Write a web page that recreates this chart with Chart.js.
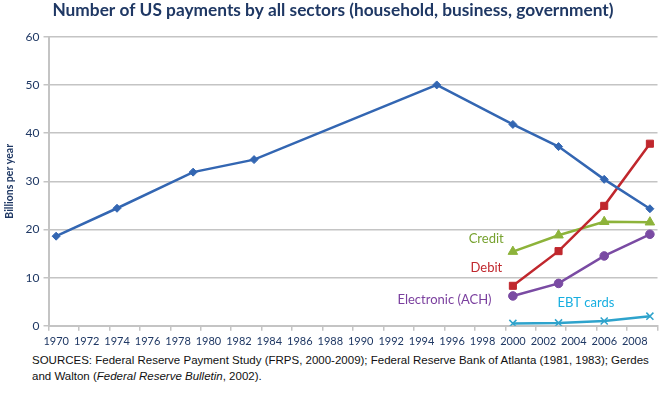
<!DOCTYPE html>
<html>
<head>
<meta charset="utf-8">
<script src="https://cdn.jsdelivr.net/npm/chart.js@4"></script>
<style>
  body { margin: 0; background: #fff; }
  #wrap { width: 664px; height: 352px; position: relative; }
  #src { font-family: "Liberation Sans", Arial, sans-serif; font-size: 11.5px; color: #111; margin: 0 0 0 32px; line-height: 16px; }
</style>
</head>
<body>
<div id="wrap"><canvas id="paymentsChart"></canvas></div>
<div id="src">SOURCES: Federal Reserve Payment Study (FRPS, 2000-2009); Federal Reserve Bank of Atlanta (1981, 1983); Gerdes<br>and Walton (<i>Federal Reserve Bulletin</i>, 2002).</div>
<script>
// values (billions per year)
var checkYears = [1970, 1974, 1979, 1983, 1995, 2000, 2003, 2006, 2009];
var checks = [18.6, 24.4, 31.9, 34.5, 50.0, 41.8, 37.2, 30.4, 24.3];
var frpsYears = [2000, 2003, 2006, 2009];
var debit = [8.3, 15.5, 24.9, 37.8];
var credit = [15.4, 18.8, 21.6, 21.5];
var ach = [6.2, 8.8, 14.5, 19.0];
var ebt = [0.5, 0.6, 1.0, 2.0];
var yTicks = [0, 10, 20, 30, 40, 50, 60];

// in-chart series names, anchored in data coordinates
var seriesNames = ['Credit', 'Debit', 'Electronic (ACH)', 'EBT cards'];
var nameAnchors = [[1999.4, 18.0, 'right'], [1999.3, 12.0, 'right'], [1998.6, 5.3, 'right'], [2004.8, 4.7, 'center']];
var nameColors = ['#77A22F', '#C0272D', '#7A3F9E', '#17AEE0'];

function pts(xs, ys) {
    return xs.map(function (x, i) { return { x: x, y: ys[i] }; });
}

var navy = '#1F3864';
var gridGray = '#C4C4C4';

var lineNames = {
    id: 'lineNames',
    afterDatasetsDraw: function (chart) {
        var ctx = chart.ctx;
        var xs = chart.scales.x, ys = chart.scales.y;
        ctx.save();
        ctx.font = '13px Lato, "Open Sans", sans-serif';
        ctx.textBaseline = 'middle';
        seriesNames.forEach(function (name, i) {
            var a = nameAnchors[i];
            ctx.fillStyle = nameColors[i];
            ctx.textAlign = a[2];
            ctx.fillText(name, xs.getPixelForValue(a[0]), ys.getPixelForValue(a[1]));
        });
        ctx.restore();
    }
};

function series(data, color, style, radius) {
    return {
        data: data,
        borderColor: color,
        backgroundColor: color,
        borderWidth: 2.5,
        pointStyle: style,
        pointRadius: radius,
        pointBorderWidth: style === 'crossRot' ? 1.5 : 1,
        pointHoverRadius: radius,
        tension: 0
    };
}

new Chart(document.getElementById('paymentsChart'), {
    type: 'line',
    data: {
        datasets: [
            series(pts(checkYears, checks), '#3366B2', 'rectRot', 4),
            series(pts(frpsYears, debit), '#C0272D', 'rect', 5),
            series(pts(frpsYears, credit), '#8DB33A', 'triangle', 5.5),
            series(pts(frpsYears, ach), '#7A4BA3', 'circle', 4.3),
            series(pts(frpsYears, ebt), '#2EA3CC', 'crossRot', 5)
        ]
    },
    options: {
        responsive: true,
        maintainAspectRatio: false,
        animation: false,
        layout: { padding: { top: 0, right: 1, left: 3, bottom: 0 } },
        plugins: {
            legend: { display: false },
            tooltip: { enabled: false },
            title: {
                display: true,
                text: 'Number of US payments by all sectors (household, business, government)',
                color: navy,
                font: { family: 'Lato, "Open Sans", sans-serif', size: 17.3, weight: 'bold' },
                padding: { top: 0, bottom: 16 }
            }
        },
        scales: {
            x: {
                type: 'linear',
                min: 1969.5,
                max: 2009.5,
                afterBuildTicks: function (axis) {
                    var t = [];
                    for (var v = 1969.5; v <= 2009.5; v += 2) t.push({ value: v });
                    axis.ticks = t;
                },
                grid: { drawOnChartArea: false, color: gridGray, lineWidth: 1.5, tickLength: 5 },
                border: { color: gridGray, width: 2 },
                ticks: {
                    color: navy,
                    font: { family: 'Lato, "Open Sans", sans-serif', size: 11 },
                    maxRotation: 0,
                    autoSkip: false,
                    labelOffset: 7.7,
                    padding: 4,
                    callback: function (v) { return v + 0.5 <= 2008 ? String(v + 0.5) : ''; }
                }
            },
            y: {
                min: 0,
                max: 60,
                afterBuildTicks: function (axis) {
                    axis.ticks = yTicks.map(function (v) { return { value: v }; });
                },
                grid: { color: gridGray, lineWidth: 1.5, tickLength: 5 },
                border: { color: gridGray, width: 2 },
                ticks: {
                    color: navy,
                    font: { family: 'Lato, "Open Sans", sans-serif', size: 12 },
                    padding: 4
                },
                title: {
                    display: true,
                    text: 'Billions per year',
                    color: navy,
                    font: { family: 'Lato, "Open Sans", sans-serif', size: 10.5, weight: 'bold' },
                    padding: { top: 0, bottom: 6 }
                }
            }
        }
    },
    plugins: [lineNames]
});
</script>
</body>
</html>
